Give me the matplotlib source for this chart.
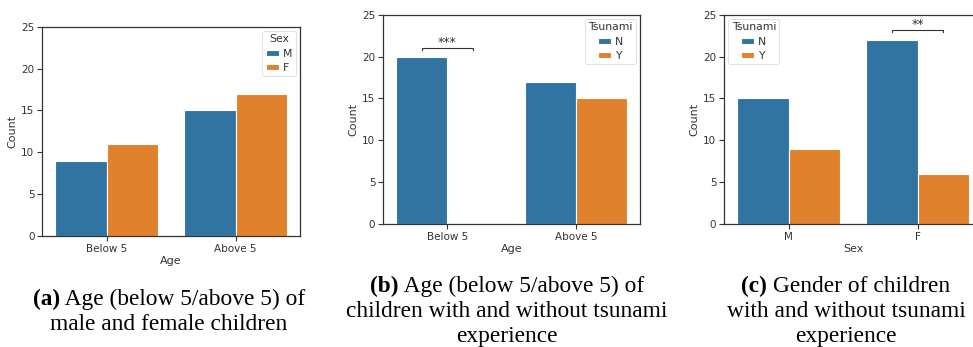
import matplotlib.pyplot as plt
import numpy as np

# counts per group
age_cats = ["Below 5", "Above 5"]
sex_cats = ["M", "F"]

age_by_sex_m = [9, 15]
age_by_sex_f = [11, 17]

age_by_tsunami_n = [20, 17]
age_by_tsunami_y = [0, 15]

sex_by_tsunami_n = [15, 22]
sex_by_tsunami_y = [9, 6]

captions = [
    ("(a)", ["Age (below 5/above 5) of", "male and female children"]),
    ("(b)", ["Age (below 5/above 5) of", "children with and without tsunami", "experience"]),
    ("(c)", ["Gender of children", "with and without tsunami", "experience"]),
]

BLUE = "#3274a1"
ORANGE = "#e1812c"
SPINE = "#333333"

plt.rcParams["font.family"] = ["DejaVu Sans"]

fig = plt.figure(figsize=(9.73, 3.47), dpi=100)
W, H = 973, 347
ax_a = fig.add_axes([0.0432, 0.3199, 0.2652, 0.6032])
ax_b = fig.add_axes([0.3936, 0.3545, 0.2645, 0.6032])
ax_c = fig.add_axes([0.7441, 0.3545, 0.2652, 0.6032])


def grouped(ax, cats, first, second, names, title, xlabel, loc):
    x = np.arange(len(cats))
    w = 0.4
    ax.bar(x - w / 2, first, w, color=BLUE, edgecolor="white", linewidth=0.8, label=names[0])
    ax.bar(x + w / 2, second, w, color=ORANGE, edgecolor="white", linewidth=0.8, label=names[1])
    ax.set_xlim(-0.5, len(cats) - 0.5)
    ax.set_ylim(0, 25)
    ax.set_yticks(range(0, 26, 5))
    ax.set_xticks(x)
    ax.set_xticklabels(cats)
    ax.set_xlabel(xlabel, fontsize=8, color=SPINE, labelpad=2)
    ax.set_ylabel("Count", fontsize=8, color=SPINE, labelpad=3)
    ax.tick_params(labelsize=7.5, colors=SPINE, length=3.5, width=0.8, pad=2)
    for s in ax.spines.values():
        s.set_color(SPINE)
        s.set_linewidth(0.9)
    leg = ax.legend(title=title, loc=loc, fontsize=7.8, title_fontsize=7.8,
                    handlelength=1.2, handleheight=0.5, handletextpad=0.4,
                    borderpad=0.3, labelspacing=0.4, borderaxespad=0.4,
                    framealpha=1, edgecolor="#dddddd", fancybox=True)
    leg.get_frame().set_linewidth(0.6)
    for t in leg.get_texts():
        t.set_color(SPINE)
    leg.get_title().set_color(SPINE)


def bracket(ax, x0, x1, y, stars):
    h = 0.25
    ax.plot([x0, x0, x1, x1], [y - h, y, y, y - h], color=SPINE, lw=0.8)
    ax.text((x0 + x1) / 2, y - 0.1, stars, ha="center", va="bottom", fontsize=9, color=SPINE)


grouped(ax_a, age_cats, age_by_sex_m, age_by_sex_f, ["M", "F"], "Sex", "Age", "upper right")
grouped(ax_b, age_cats, age_by_tsunami_n, age_by_tsunami_y, ["N", "Y"], "Tsunami", "Age", "upper right")
grouped(ax_c, sex_cats, sex_by_tsunami_n, sex_by_tsunami_y, ["N", "Y"], "Tsunami", "Sex", "upper left")

bracket(ax_b, -0.2, 0.2, age_by_tsunami_n[0] + 1.0, "***")
bracket(ax_c, 0.8, 1.2, sex_by_tsunami_n[1] + 1.2, "**")

# sub-figure captions, bold label + regular text on the first line
cap_font = dict(fontsize=16.8, family="Liberation Serif", color="black", va="baseline")
cap_x = [169, 507, 846]
cap_base = [305, 292, 292]
line_gap = 25
renderer = fig.canvas.get_renderer()
for (lab, lines), cx, by in zip(captions, cap_x, cap_base):
    y0 = 1 - by / H
    t_lab = fig.text(0, y0, lab, weight="bold", ha="left", **cap_font)
    t_rest = fig.text(0, y0, " " + lines[0], ha="left", **cap_font)
    w_lab = t_lab.get_window_extent(renderer).width
    w_rest = t_rest.get_window_extent(renderer).width
    x0 = cx - (w_lab + w_rest) / 2
    t_lab.set_x(x0 / W)
    t_rest.set_x((x0 + w_lab) / W)
    for i, ln in enumerate(lines[1:], start=1):
        fig.text(cx / W, 1 - (by + i * line_gap) / H, ln, ha="center", **cap_font)

fig.savefig("out.png", dpi=100)
